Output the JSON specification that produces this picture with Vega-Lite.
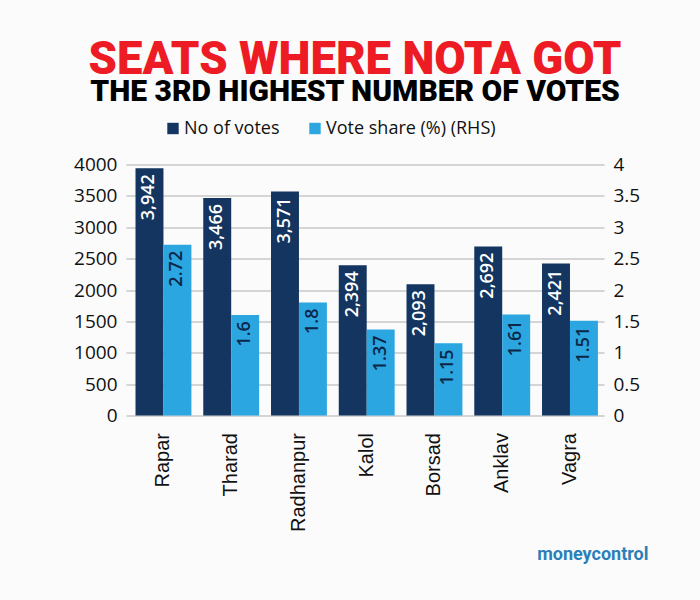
{
"$schema":"https://vega.github.io/schema/vega-lite/v6.json",
"width":478,"height":251,
"autosize":"none",
"padding":{"left":126,"top":164.5,"right":96,"bottom":184.5},
"background":"#fbfbfb",
"title":{"text":"SEATS WHERE NOTA GOT","subtitle":"THE 3RD HIGHEST NUMBER OF VOTES","anchor":"middle","dx":-10,"offset":13,"font":"Roboto","fontSize":45.5,"fontWeight":900,"color":"#ed1c24","subtitleFont":"Roboto","subtitleFontSize":30,"subtitleFontWeight":900,"subtitleColor":"#000000","subtitlePadding":-7},
"datasets":{"rows":[
{"seat":"Rapar","series":"No of votes","value":3942,"label":"3,942"},
{"seat":"Tharad","series":"No of votes","value":3466,"label":"3,466"},
{"seat":"Radhanpur","series":"No of votes","value":3571,"label":"3,571"},
{"seat":"Kalol","series":"No of votes","value":2394,"label":"2,394"},
{"seat":"Borsad","series":"No of votes","value":2093,"label":"2,093"},
{"seat":"Anklav","series":"No of votes","value":2692,"label":"2,692"},
{"seat":"Vagra","series":"No of votes","value":2421,"label":"2,421"},
{"seat":"Rapar","series":"Vote share (%) (RHS)","value":2.72,"label":"2.72"},
{"seat":"Tharad","series":"Vote share (%) (RHS)","value":1.6,"label":"1.6"},
{"seat":"Radhanpur","series":"Vote share (%) (RHS)","value":1.8,"label":"1.8"},
{"seat":"Kalol","series":"Vote share (%) (RHS)","value":1.37,"label":"1.37"},
{"seat":"Borsad","series":"Vote share (%) (RHS)","value":1.15,"label":"1.15"},
{"seat":"Anklav","series":"Vote share (%) (RHS)","value":1.61,"label":"1.61"},
{"seat":"Vagra","series":"Vote share (%) (RHS)","value":1.51,"label":"1.51"}
]},
"data":{"name":"rows"},
"encoding":{
"x":{"field":"seat","type":"nominal","sort":["Rapar","Tharad","Radhanpur","Kalol","Borsad","Anklav","Vagra"],"scale":{"paddingInner":0.175,"paddingOuter":0.115,"align":0.61},
"axis":{"title":"moneycontrol","titleFont":"Roboto","titleFontSize":18,"titleFontWeight":"bold","titleColor":"#2b7fb8","titleAlign":"right","titleX":522,"titleY":130,"labelAngle":-90,"labelFont":"Liberation Sans","labelFontSize":20,"labelColor":"#111111","ticks":false,"domain":false,"labelPadding":17,"labelAlign":"right","labelBaseline":"middle","labelLimit":200}},
"xOffset":{"field":"series","type":"nominal","scale":{"domain":["No of votes","Vote share (%) (RHS)"],"padding":0}}
},
"layer":[
{"transform":[{"filter":"datum.series === 'No of votes'"}],
"encoding":{"y":{"field":"value","type":"quantitative","scale":{"domain":[0,4000]},"axis":{"title":null,"values":[0,500,1000,1500,2000,2500,3000,3500,4000],"format":"d","labelFont":"Open Sans","labelFontSize":19,"labelColor":"#111111","ticks":false,"domain":false,"gridColor":"#c8c8c8","gridWidth":1.5,"labelPadding":9}}},
"layer":[
{"mark":{"type":"bar"},"encoding":{
"color":{"field":"series","type":"nominal","scale":{"domain":["No of votes","Vote share (%) (RHS)"],"range":["#13355f","#2ba6e0"]},"legend":{"title":null,"orient":"none","legendX":38,"legendY":-45,"direction":"horizontal","symbolType":"square","symbolSize":130,"symbolOpacity":1,"labelFont":"Open Sans","labelFontSize":18,"labelColor":"#111111","columnPadding":26,"labelOffset":2,"labelLimit":300}}}},
{"mark":{"type":"text","angle":-90,"align":"right","baseline":"middle","dx":-6,"font":"Open Sans","fontSize":18,"fontWeight":600,"color":"#ffffff"},"encoding":{
"text":{"field":"label","type":"nominal"}}}
]},
{"transform":[{"filter":"datum.series !== 'No of votes'"}],
"encoding":{"y":{"field":"value","type":"quantitative","scale":{"domain":[0,4]},"axis":{"title":null,"orient":"right","values":[0,0.5,1,1.5,2,2.5,3,3.5,4],"format":"~g","labelFont":"Open Sans","labelFontSize":19,"labelColor":"#111111","ticks":false,"domain":false,"grid":false,"labelPadding":9}}},
"layer":[
{"mark":{"type":"bar"},"encoding":{
"color":{"field":"series","type":"nominal","scale":{"domain":["No of votes","Vote share (%) (RHS)"],"range":["#13355f","#2ba6e0"]},"legend":null}}},
{"mark":{"type":"text","angle":-90,"align":"right","baseline":"middle","dx":-6,"font":"Open Sans","fontSize":18,"fontWeight":600,"color":"#0c2748"},"encoding":{
"text":{"field":"label","type":"nominal"}}}
]}
],
"resolve":{"scale":{"y":"independent"},"axis":{"y":"independent"}},
"config":{"view":{"stroke":null}}
}
